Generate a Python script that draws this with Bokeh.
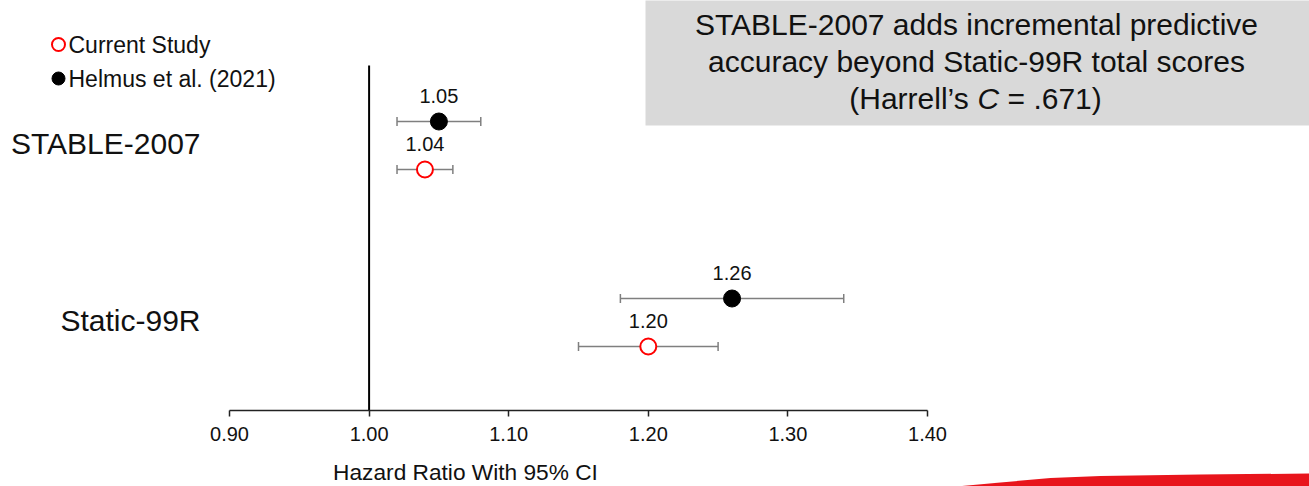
from bokeh.plotting import figure
from bokeh.models import LinearAxis, FixedTicker, Whisker, ColumnDataSource, TeeHead, Range1d, PrintfTickFormatter
from bokeh.core.properties import value
from bokeh.embed import file_html
from bokeh.resources import INLINE

# ---------------- data ----------------
categories = ["Static-99R", "STABLE-2007"]
cat_pos = [1, 2]
current_hr = [1.20, 1.04]
current_lo = [1.15, 1.02]
current_hi = [1.25, 1.06]
helmus_hr = [1.26, 1.05]
helmus_lo = [1.18, 1.02]
helmus_hi = [1.34, 1.08]
x_ticks = [0.90, 1.00, 1.10, 1.20, 1.30, 1.40]
series_names = ["Current Study", "Helmus et al. (2021)"]
reference_hr = 1.00
note_lines = ["STABLE-2007 adds incremental predictive",
              "accuracy beyond Static-99R total scores"]
note_c = ["(Harrell\u2019s", "C", "= .671)"]
axis_title = "Hazard Ratio With 95% CI"

# ---------------- layout helpers ----------------
W, H = 1309, 486
X_ORIGIN_PX, PX_PER_X = 229, 1396.0
PX_PER_ROW, ROW1_PX = 177.0, 322.0
xs = 0.9 - X_ORIGIN_PX / PX_PER_X
xe = xs + W / PX_PER_X
ye = 1 + ROW1_PX / PX_PER_ROW
ys = ye - H / PX_PER_ROW


def px2x(px):
    return xs + px / PX_PER_X


def py2y(py):
    return ye - py / PX_PER_ROW


off = 24 / PX_PER_ROW
axis_y = py2y(410)

SANS = "Liberation Sans"
TXT = "#111111"

p = figure(width=W, height=H, x_range=Range1d(xs, xe), y_range=Range1d(ys, ye),
           x_axis_type=None, y_axis_type=None, output_backend="svg",
           toolbar_location=None, min_border=0)
p.outline_line_color = None
p.background_fill_color = "white"
p.border_fill_color = "white"

# grey note box
p.quad(left=[px2x(645)], right=[px2x(1315)], top=[py2y(-5)], bottom=[py2y(125)],
       fill_color="#d9d9d9", line_color=None)
FS = 30
for i, t in enumerate(note_lines):
    p.text(x=[px2x(976)], y=[py2y(24 + 37 * i)], text=[t], text_align="center",
           text_baseline="middle", text_font=value(SANS), text_font_size="%dpx" % FS,
           text_color=TXT)
w_left = 4.277 * FS   # "(Harrell's " incl. space
w_c = 0.722 * FS
w_sp = 0.278 * FS
w_right = 3.141 * FS  # "= .671)"
total = w_left + w_c + w_sp + w_right
lx = 975 - total / 2
y3 = py2y(98)
p.text(x=[px2x(lx)], y=[y3], text=[note_c[0]], text_align="left", text_baseline="middle",
       text_font=value(SANS), text_font_size="%dpx" % FS, text_color=TXT)
p.text(x=[px2x(lx + w_left)], y=[y3], text=[note_c[1]], text_align="left", text_baseline="middle",
       text_font=value(SANS), text_font_size="%dpx" % FS, text_font_style="italic", text_color=TXT)
p.text(x=[px2x(lx + w_left + w_c + w_sp)], y=[y3], text=[note_c[2]], text_align="left",
       text_baseline="middle", text_font=value(SANS), text_font_size="%dpx" % FS, text_color=TXT)

# reference line at HR = 1
p.segment(x0=[reference_hr], x1=[reference_hr], y0=[axis_y], y1=[py2y(65)],
          line_color="black", line_width=2)

cur = ColumnDataSource(dict(hr=current_hr, lo=current_lo, hi=current_hi,
                            y=[c - off for c in cat_pos],
                            lab=["%.2f" % v for v in current_hr]))
hel = ColumnDataSource(dict(hr=helmus_hr, lo=helmus_lo, hi=helmus_hi,
                            y=[c + off for c in cat_pos],
                            lab=["%.2f" % v for v in helmus_hr]))

for src in (cur, hel):
    wk = Whisker(source=src, base="y", lower="lo", upper="hi", dimension="width",
                 line_color="#7f7f7f", line_width=1.5, level="underlay",
                 lower_head=TeeHead(size=9, line_color="#7f7f7f", line_width=1.5),
                 upper_head=TeeHead(size=9, line_color="#7f7f7f", line_width=1.5))
    p.add_layout(wk)

p.scatter(x="hr", y="y", source=hel, size=17, fill_color="black", line_color="black")
p.scatter(x="hr", y="y", source=cur, size=16, fill_color="white", line_color="#ff0000",
          line_width=2)

for src in (cur, hel):
    p.text(x="hr", y="y", text="lab", source=src, text_align="center", text_baseline="middle",
           y_offset=-26, text_font=value(SANS), text_font_size="20px", text_color=TXT)

# category labels
p.text(x=[px2x(200)] * 2, y=cat_pos, text=categories, text_align="right", y_offset=-2,
       text_baseline="middle", text_font=value(SANS), text_font_size="30px", text_color=TXT)

# legend (manual)
p.scatter(x=[px2x(58)], y=[py2y(44)], size=13, fill_color="white", line_color="#ff0000", line_width=2)
p.scatter(x=[px2x(58)], y=[py2y(78)], size=13, fill_color="black", line_color="black")
p.text(x=[px2x(68)] * 2, y=[py2y(44), py2y(78)], text=series_names, text_align="left",
       text_baseline="middle", text_font=value(SANS), text_font_size="23px", text_color=TXT)

# x axis
ax = LinearAxis(ticker=FixedTicker(ticks=x_ticks), bounds=(0.9, 1.4), fixed_location=axis_y,
                formatter=PrintfTickFormatter(format="%.2f"))
ax.axis_line_color = "#222222"
ax.axis_line_width = 1.5
ax.major_tick_in = 0
ax.major_tick_out = 6
ax.major_tick_line_color = "#222222"
ax.major_tick_line_width = 1.5
ax.minor_tick_line_color = None
ax.major_label_text_font = SANS
ax.major_label_text_font_size = "20px"
ax.major_label_text_color = TXT
ax.major_label_standoff = 10
p.add_layout(ax, "below")

p.text(x=[px2x(465)], y=[py2y(471)], text=[axis_title], text_align="center",
       text_baseline="middle", text_font=value(SANS), text_font_size="22.7px",
       text_color=TXT)

# red swoosh decoration
sw_px = [(945, 487), (1000, 482), (1050, 477.5), (1100, 475.5), (1200, 474),
         (1312, 473), (1312, 487)]
p.patch(x=[px2x(a) for a, b in sw_px], y=[py2y(b) for a, b in sw_px],
        fill_color="#e8151c", line_color=None)

open("out.html", "w").write(file_html(p, INLINE))
